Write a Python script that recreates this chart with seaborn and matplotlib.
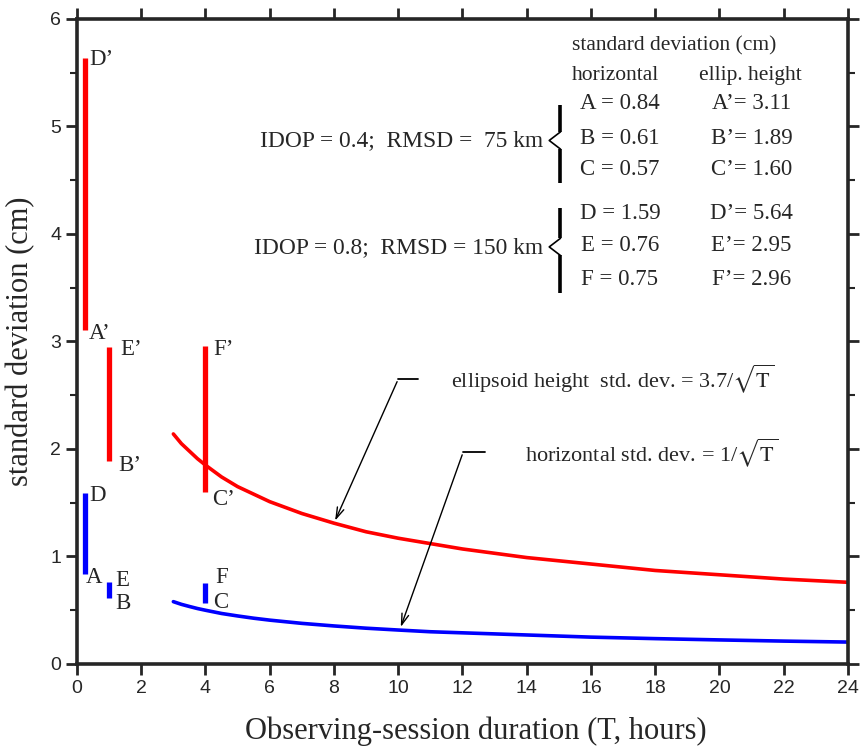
import matplotlib
matplotlib.use("Agg")
import matplotlib.pyplot as plt
import numpy as np
import pandas as pd
import seaborn as sns

# session durations (hours) for the six test cases
bar_t = [0.25, 1, 4]
# horizontal std. dev. (cm): low end A,B,C and high end D,E,F
horiz_low = [0.84, 0.61, 0.57]
horiz_high = [1.59, 0.76, 0.75]
# ellipsoid-height std. dev. (cm): A',B',C' and D',E',F'
height_low = [3.11, 1.89, 1.60]
height_high = [5.64, 2.95, 2.96]

# fitted curves
curve_t = [3, 3.25, 3.5, 3.75, 4, 4.5, 5, 5.5, 6, 7, 8, 9, 10, 11, 12,
           13, 14, 16, 18, 20, 22, 24]
curve_height = [2.14, 2.05, 1.98, 1.91, 1.85, 1.74, 1.65, 1.58, 1.51, 1.40,
                 1.31, 1.23, 1.17, 1.12, 1.07, 1.03, 0.99, 0.93, 0.87, 0.83,
                 0.79, 0.76]
curve_horiz = [0.58, 0.555, 0.535, 0.516, 0.50, 0.47, 0.447, 0.426, 0.408,
               0.378, 0.354, 0.333, 0.316, 0.30, 0.29, 0.28, 0.27, 0.25,
               0.236, 0.224, 0.213, 0.204]

low_names = ["A", "B", "C"]
high_names = ["D", "E", "F"]

sns.set_style("ticks")
plt.rcParams["font.family"] = ["Liberation Serif", "DejaVu Serif"]
plt.rcParams["mathtext.fontset"] = "stix"

fig = plt.figure(figsize=(8.63, 7.48), dpi=100)
ax = fig.add_axes([0.0892, 0.1123, 0.8934, 0.8623])

curves = pd.DataFrame({"T": curve_t + curve_t,
                       "sd": curve_height + curve_horiz,
                       "kind": ["height"] * len(curve_t) + ["horiz"] * len(curve_t)})
sns.lineplot(data=curves, x="T", y="sd", hue="kind",
             palette={"height": "#ff0000", "horiz": "#0000ff"},
             linewidth=2.6, legend=False, ax=ax)

ax.vlines(bar_t, height_low, height_high, color="#ff0000", linewidth=3.8)
ax.vlines(bar_t, horiz_low, horiz_high, color="#0000ff", linewidth=3.8)

fs = 16.5
# labels next to the bars
lab_pos = {
    "D'": (0.37, 5.62), "A'": (0.37, 3.07), "E'": (1.35, 2.93),
    "B'": (1.3, 1.85), "F'": (4.25, 2.93), "C'": (4.2, 1.53),
    "D": (0.37, 1.57), "A": (0.27, 0.80), "E": (1.2, 0.78),
    "B": (1.2, 0.56), "F": (4.3, 0.80), "C": (4.25, 0.57),
}
for txt, (x, y) in lab_pos.items():
    ax.text(x, y, txt.replace("'", "\u2019"), fontsize=fs, va="center", ha="left")

# table of values
ax.text(18.6, 5.75, "standard deviation (cm)", fontsize=fs - 1, ha="center", va="center")
ax.text(16.75, 5.47, "horizontal", fontsize=fs - 1, ha="center", va="center")
ax.text(20.95, 5.47, "ellip. height", fontsize=fs - 1, ha="center", va="center")
row_y = [5.21, 4.89, 4.60, 4.19, 3.89, 3.58]
h_vals = horiz_low + horiz_high
e_vals = height_low + height_high
names = low_names + high_names
for y, n, hv, ev in zip(row_y, names, h_vals, e_vals):
    ax.text(16.9, y, f"{n} = {hv:.2f}", fontsize=fs, ha="center", va="center")
    ax.text(21.0, y, f"{n}\u2019= {ev:.2f}", fontsize=fs, ha="center", va="center")

ax.text(14.5, 4.87, "IDOP = 0.4;  RMSD =  75 km", fontsize=16.9, ha="right", va="center")
ax.text(14.5, 3.87, "IDOP = 0.8;  RMSD = 150 km", fontsize=16.9, ha="right", va="center")

# braces
for top, mid, bot in [(5.2, 4.87, 4.47), (4.24, 3.88, 3.45)]:
    ax.plot([15.05, 15.05], [top, mid + 0.08], color="black", lw=2.6, solid_capstyle="butt")
    ax.plot([15.05, 15.05], [mid - 0.08, bot], color="black", lw=2.6, solid_capstyle="butt")
    ax.plot([15.05, 14.7, 15.05], [mid + 0.08, mid, mid - 0.08], color="black", lw=1.2)

# curve annotations
ax.text(11.65, 2.65, r"ellipsoid height  std. dev. = 3.7/$\sqrt{\mathrm{T}}$",
        fontsize=16, ha="left", va="center")
ax.text(13.95, 1.97, r"horizontal std. dev. = 1/$\sqrt{\mathrm{T}}$",
        fontsize=16, ha="left", va="center")
ax.plot([10.0, 10.6], [2.65, 2.65], color="black", lw=1.3)
ax.plot([12.02, 12.7], [1.97, 1.97], color="black", lw=1.3)
ax.annotate("", xy=(8.0, 1.31), xytext=(10.0, 2.65),
            arrowprops=dict(arrowstyle="->,head_length=0.8,head_width=0.25", color="black", lw=1.0))
ax.annotate("", xy=(10.05, 0.32), xytext=(12.02, 1.97),
            arrowprops=dict(arrowstyle="->,head_length=0.8,head_width=0.25", color="black", lw=1.0))

ax.set_xlim(0, 24)
ax.set_ylim(0, 6)
ax.set_xticks(np.arange(0, 25, 2))
ax.set_yticks(np.arange(0, 7, 1))
ax.set_yticks(np.arange(0, 6.01, 0.5), minor=True)
for sp in ax.spines.values():
    sp.set_visible(True)
    sp.set_linewidth(2.6)
ax.tick_params(axis="both", which="major", direction="out", length=8, width=2,
               labelsize=14, top=True, right=True, labeltop=False, labelright=False)
ax.tick_params(axis="y", which="minor", direction="out", length=5, width=1.5,
               left=True, right=True)
ax.tick_params(axis="y", which="major", right=True)
for lab in ax.get_xticklabels() + ax.get_yticklabels():
    lab.set_fontfamily("Liberation Sans")

ax.set_xlabel("Observing-session duration (T, hours)", fontsize=22)
ax.xaxis.set_label_coords(0.517, -0.081)
ax.set_ylabel("standard deviation (cm)", fontsize=22, labelpad=11)

fig.savefig("out.png", dpi=100)
